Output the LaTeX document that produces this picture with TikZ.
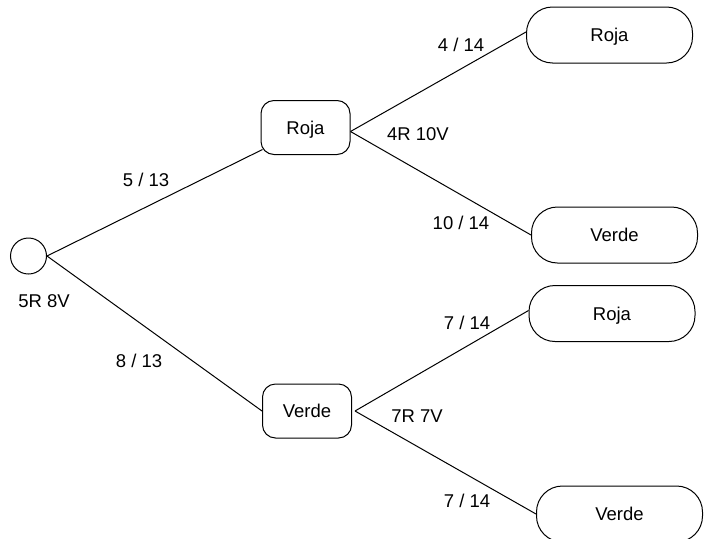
\documentclass[tikz,border=0pt]{standalone}
\usepackage{fontspec}
\setmainfont{Liberation Sans}
\begin{document}
\begin{tikzpicture}[x=1pt,y=-1pt,
  font=\fontsize{18.5}{22}\selectfont,
  every path/.style={line width=1pt},
  midbox/.style={draw, minimum width=89pt, minimum height=54pt, rounded corners=13pt, inner sep=0pt, text height=13pt, text depth=0pt},
  endbox/.style={draw, minimum width=166pt, minimum height=56pt, rounded corners=26pt, inner sep=0pt, text height=13pt, text depth=0pt},
  lbl/.style={inner sep=0pt},
  rootnode/.style={circle, draw, minimum size=36pt, inner sep=0pt}]
\useasboundingbox (0,0) rectangle (708,538);
\node[rootnode] (root) at (28.5,256) {};
\node[midbox] (r1) at (305.5,127.5) {Roja};
\node[midbox] (v1) at (307,411) {Verde};
\node[endbox] (rr) at (609.5,35) {Roja};
\node[endbox] (rv) at (614.5,235) {Verde};
\node[endbox] (vr) at (612,313.5) {Roja};
\node[endbox] (vv) at (619.5,514) {Verde};
\coordinate (r1in) at ([xshift=2pt,yshift=-22pt]r1.west);
\coordinate (r1out) at ([yshift=-4pt]r1.east);
\coordinate (v1out) at ([xshift=3pt]v1.east);
\draw (root.east) -- (r1in);
\draw (root.east) -- (v1.west);
\draw (r1out) -- ([yshift=3pt]rr.west);
\draw (r1out) -- (rv.west);
\draw (v1out) -- ([yshift=3pt]vr.west);
\draw (v1out) -- (vv.west);
\node[lbl] (l0) at (44,301) {5R 8V};
\node[lbl] (l1) at (146,180) {5 / 13};
\node[lbl] (l2) at (139,361) {8 / 13};
\node[lbl] (l3) at (418,134) {4R 10V};
\node[lbl] (l4) at (417,416) {7R 7V};
\node[lbl] (l5) at (461,45) {4 / 14};
\node[lbl] (l6) at (461,223) {10 / 14};
\node[lbl] (l7) at (467,323) {7 / 14};
\node[lbl] (l8) at (467,501) {7 / 14};
\end{tikzpicture}
\end{document}
